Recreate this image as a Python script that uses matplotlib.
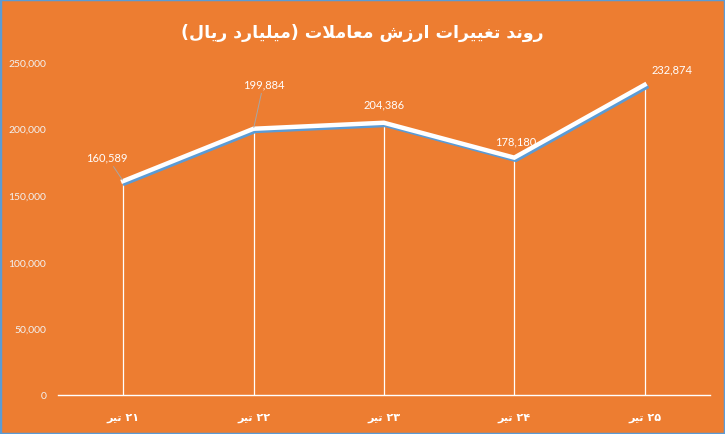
import re
import matplotlib
matplotlib.use("Agg")
import matplotlib.pyplot as plt
import matplotlib.patheffects as pe
from matplotlib.patches import Rectangle

# ---- data ----
title_text = "روند تغییرات ارزش معاملات (میلیارد ریال)"
categories = ["۲۱ تیر", "۲۲ تیر", "۲۳ تیر", "۲۴ تیر", "۲۵ تیر"]
values = [160589, 199884, 204386, 178180, 232874]
yticks = [0, 50000, 100000, 150000, 200000, 250000]

# ---- minimal Arabic/Persian shaping + visual ordering ----
FORMS = {
    '\u0627': ('\uFE8D', '\uFE8E', None, None),
    '\u0628': ('\uFE8F', '\uFE90', '\uFE91', '\uFE92'),
    '\u062A': ('\uFE95', '\uFE96', '\uFE97', '\uFE98'),
    '\u062F': ('\uFEA9', '\uFEAA', None, None),
    '\u0631': ('\uFEAD', '\uFEAE', None, None),
    '\u0632': ('\uFEAF', '\uFEB0', None, None),
    '\u0634': ('\uFEB5', '\uFEB6', '\uFEB7', '\uFEB8'),
    '\u0639': ('\uFEC9', '\uFECA', '\uFECB', '\uFECC'),
    '\u063A': ('\uFECD', '\uFECE', '\uFECF', '\uFED0'),
    '\u0644': ('\uFEDD', '\uFEDE', '\uFEDF', '\uFEE0'),
    '\u0645': ('\uFEE1', '\uFEE2', '\uFEE3', '\uFEE4'),
    '\u0646': ('\uFEE5', '\uFEE6', '\uFEE7', '\uFEE8'),
    '\u0648': ('\uFEED', '\uFEEE', None, None),
    '\u06CC': ('\uFBFC', '\uFBFD', '\uFBFE', '\uFBFF'),
}


def dual(ch):
    return ch in FORMS and FORMS[ch][2] is not None


def shape(text):
    out = []
    i = 0
    n = len(text)
    while i < n:
        ch = text[i]
        if ch not in FORMS:
            out.append(ch)
            i += 1
            continue
        prev = text[i - 1] if i > 0 else ''
        jp = dual(prev)
        if ch == '\u0644' and i + 1 < n and text[i + 1] == '\u0627':
            out.append('\uFEFC' if jp else '\uFEFB')
            i += 2
            continue
        nxt = text[i + 1] if i + 1 < n else ''
        jn = dual(ch) and nxt in FORMS
        iso, fin, ini, med = FORMS[ch]
        if jp and jn:
            out.append(med)
        elif jp:
            out.append(fin)
        elif jn:
            out.append(ini)
        else:
            out.append(iso)
        i += 1
    s = ''.join(out)[::-1]
    s = re.sub(r'[0-9\u06F0-\u06F9,]+', lambda m: m.group(0)[::-1], s)
    s = s.translate(str.maketrans('()', ')('))
    return s


ORANGE = "#ED7D31"
BLUE = "#5B9BD5"
WHITE = "#FFFFFF"

plt.rcParams['font.family'] = ['DejaVu Sans']

fig = plt.figure(figsize=(7.25, 4.35), dpi=100, facecolor=ORANGE)
ax = fig.add_axes([0.08, 0.0897, 0.899, 0.7655], facecolor=ORANGE)

x = list(range(len(categories)))
ax.plot(x, values, color=WHITE, lw=3.2, solid_joinstyle='miter', zorder=4,
        path_effects=[pe.SimpleLineShadow(offset=(1.2, -1.6), shadow_color=BLUE, alpha=1.0),
                      pe.Normal()])
ax.vlines(x, 0, values, color=WHITE, lw=0.9, zorder=3)

offsets = [(-16, 24), (10, 45), (0, 19), (1, 17), (27, 16)]
leaders = [True, True, False, False, False]
for xi, v, (dx, dy), ld in zip(x, values, offsets, leaders):
    kw = {}
    if ld:
        kw['arrowprops'] = dict(arrowstyle='-', color='#A6A6A6', lw=0.7, shrinkA=1, shrinkB=1)
    ax.annotate(f"{v:,}", xy=(xi, v), xytext=(dx, dy), textcoords='offset pixels',
                ha='center', va='center', color=WHITE, fontsize=8, family='Lato',
                zorder=5, **kw)

ax.set_xlim(-0.5, len(categories) - 0.5)
ax.set_ylim(0, 250000)
ax.set_yticks(yticks)
ax.set_yticklabels([f"{t:,}" for t in yticks], color='#F2F2F2', fontsize=7.5,
                   family='Lato')
ax.set_xticks(x)
ax.set_xticklabels([shape(c) for c in categories], color=WHITE, fontsize=8,
                   fontweight='bold')
ax.tick_params(axis='both', length=0)
ax.tick_params(axis='y', pad=8.5)
ax.tick_params(axis='x', pad=12)
for s in ['top', 'right', 'left']:
    ax.spines[s].set_visible(False)
ax.spines['bottom'].set_color(WHITE)
ax.spines['bottom'].set_linewidth(1.0)

fig.text(0.5, 0.924, shape(title_text), ha='center', va='center', color=WHITE,
         fontsize=12.5, fontweight='bold')

fig.patches.append(Rectangle((0, 0), 1, 1, transform=fig.transFigure, fill=False,
                             edgecolor=BLUE, lw=2.5, zorder=10))

fig.savefig("out.png", dpi=100, facecolor=ORANGE)
